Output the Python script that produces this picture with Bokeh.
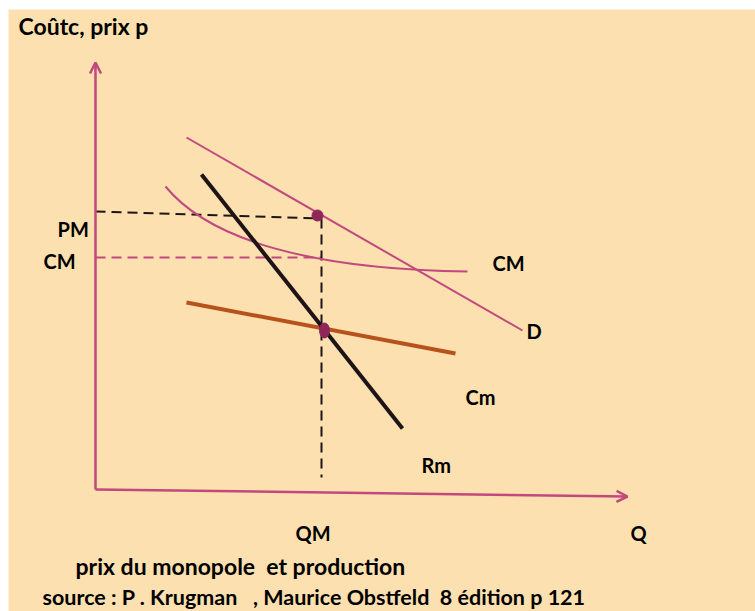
from bokeh.plotting import figure
from bokeh.models import Range1d, Arrow, OpenHead, Label
from bokeh.embed import file_html
from bokeh.resources import INLINE

# Schematic monopoly diagram: quantity Q on x, cost / price on y (arbitrary units)
axis_q = [0, 532]          # horizontal axis, origin -> arrow tip
axis_q_y = [0, -7]
axis_p = [0, 427]          # vertical axis, origin -> arrow tip

demand_q = [91, 427]       # D
demand_p = [352, 159]

mr_q = [106, 307]          # Rm (recette marginale)
mr_p = [315, 61]

mc_q = [91, 360]           # Cm (coût marginal)
mc_p = [187, 136]

# CM (coût moyen): ends and two control points of one smooth cubic curve
ac_ends_q = [70, 372]
ac_ends_p = [303, 218]
ac_ctrl_q = [115, 220]
ac_ctrl_p = [248, 220]

qm = 226                   # quantité de monopole
pm_line = [278, 271]       # niveau PM, de l'axe jusqu'à QM
cm_level = 232             # niveau CM
vert_p = [271, 12]         # pointillé vertical en QM

dot_d = (222, 274)         # point (QM, PM) sur D
dot_mc = (229, 159)        # intersection Rm = Cm

labels = {
    "PM": (-38, 261),
    "CM_left": (-52, 229),
    "CM_right": (397, 227),
    "D": (431, 159),
    "Cm": (370, 93),
    "Rm": (326, 25),
    "QM": (200, -43),
    "Q": (535, -43),
}
title = "Coûtc, prix p"
caption = "prix du monopole \u00a0et production"
source = "source : P . Krugman \u00a0\u00a0, Maurice Obstfeld \u00a08 édition p 121"

PINK = "#C2487E"
DOT = "#8E2658"
BLACK = "#1E1418"
ORANGE = "#B8521D"
BG = "#FCE0AF"
FONT = "Lato"

p = figure(width=755, height=611, output_backend="svg", toolbar_location=None,
           x_range=Range1d(-87, 660), y_range=Range1d(-122, 480),
           min_border_left=8, min_border_top=9, min_border_right=0, min_border_bottom=0,
           background_fill_color=BG, border_fill_color="white", outline_line_color=None)
p.axis.visible = False
p.grid.visible = False

# axes with open arrowheads
p.add_layout(Arrow(x_start=axis_q[0], y_start=axis_q_y[0], x_end=axis_q[1], y_end=axis_q_y[1],
                   line_color=PINK, line_width=2.5,
                   end=OpenHead(size=11, line_color=PINK, line_width=2.5)))
p.add_layout(Arrow(x_start=0, y_start=axis_p[0], x_end=0, y_end=axis_p[1],
                   line_color=PINK, line_width=2.5,
                   end=OpenHead(size=11, line_color=PINK, line_width=2.5)))

# reference dashes
p.line([0, qm - 3], pm_line, line_color=BLACK, line_width=2, line_dash="10 6")
p.line([0, qm], [cm_level, cm_level], line_color=PINK, line_width=2, line_dash="10 6")
p.line([qm, qm], vert_p, line_color=BLACK, line_width=2, line_dash="10 6")

# curves
p.line(demand_q, demand_p, line_color=PINK, line_width=2)
p.bezier(x0=[ac_ends_q[0]], y0=[ac_ends_p[0]], x1=[ac_ends_q[1]], y1=[ac_ends_p[1]],
         cx0=[ac_ctrl_q[0]], cy0=[ac_ctrl_p[0]], cx1=[ac_ctrl_q[1]], cy1=[ac_ctrl_p[1]],
         line_color=PINK, line_width=2)
p.line(mc_q, mc_p, line_color=ORANGE, line_width=4)
p.line(mr_q, mr_p, line_color=BLACK, line_width=4)

# equilibrium points
p.ellipse(x=[dot_d[0]], y=[dot_d[1]], width=11, height=11, width_units="screen",
          height_units="screen", fill_color=DOT, line_color=DOT)
p.ellipse(x=[dot_mc[0]], y=[dot_mc[1]], width=10, height=15, width_units="screen",
          height_units="screen", fill_color=DOT, line_color=DOT)


def add_text(txt, x, y, size):
    p.add_layout(Label(x=x, y=y, text=txt, text_font=FONT, text_font_style="bold",
                       text_font_size=size, text_color="black", text_baseline="alphabetic"))


for key, (x, y) in labels.items():
    add_text(key.split("_")[0], x, y, "20px")

add_text(title, -77, 464, "23px")
add_text(caption, -20, -76, "23px")
add_text(source, -53, -107, "21.5px")

open("out.html", "w").write(file_html(p, INLINE))
